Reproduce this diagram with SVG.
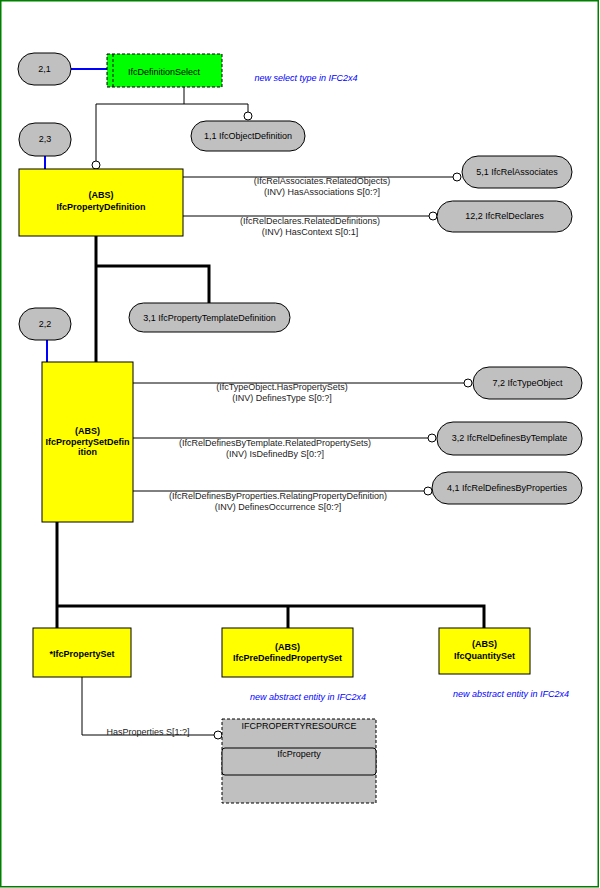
<svg xmlns="http://www.w3.org/2000/svg" width="600" height="888" viewBox="0 0 600 888">
<style>
text{font-family:"Liberation Sans",Arial,sans-serif;font-size:9px;fill:#000;text-anchor:middle}
.b{font-weight:bold}
.note{fill:#0000ff;font-style:italic}
.lbl{fill:#222}
.pill{fill:#c0c0c0;stroke:#000;stroke-width:1}
.ent{fill:#ffff00;stroke:#000;stroke-width:1}
.thin{stroke:#000;stroke-width:1;fill:none}
.thick{stroke:#000;stroke-width:3;fill:none}
.blue{stroke:#0000ff;stroke-width:2;fill:none}
.oc{fill:#fff;stroke:#000;stroke-width:1}
</style>
<rect x="0.75" y="0.75" width="597.5" height="886" fill="#fff" stroke="#008000" stroke-width="1.5"/>

<g id="connectors">
<line class="blue" x1="71" y1="69" x2="107" y2="69"/>
<line class="blue" x1="45" y1="156" x2="45" y2="169"/>
<line class="blue" x1="47" y1="340" x2="47" y2="362"/>
<polyline class="thin" points="184,87 184,104 96,104 96,161"/>
<polyline class="thin" points="184,104 248,104 248,112"/>
<circle class="oc" cx="248" cy="116" r="4"/>
<circle class="oc" cx="96" cy="165" r="4"/>
<line class="thin" x1="183" y1="177" x2="453" y2="177"/>
<circle class="oc" cx="457" cy="177" r="4"/>
<text class="lbl" x="322" y="184">(IfcRelAssociates.RelatedObjects)</text>
<text class="lbl" x="322" y="195">(INV) HasAssociations S[0:?]</text>
<line class="thin" x1="183" y1="216" x2="429" y2="216"/>
<circle class="oc" cx="433" cy="216" r="4"/>
<text class="lbl" x="310" y="224">(IfcRelDeclares.RelatedDefinitions)</text>
<text class="lbl" x="310" y="235">(INV) HasContext S[0:1]</text>
<polyline class="thick" points="96,236 96,362"/>
<polyline class="thick" points="96,266 209,266 209,303"/>
<line class="thin" x1="133" y1="383" x2="464" y2="383"/>
<circle class="oc" cx="468" cy="383" r="4"/>
<text class="lbl" x="282" y="390">(IfcTypeObject.HasPropertySets)</text>
<text class="lbl" x="282" y="401">(INV) DefinesType S[0:?]</text>
<line class="thin" x1="133" y1="438" x2="428" y2="438"/>
<circle class="oc" cx="432" cy="438" r="4"/>
<text class="lbl" x="275" y="446">(IfcRelDefinesByTemplate.RelatedPropertySets)</text>
<text class="lbl" x="275" y="457">(INV) IsDefinedBy S[0:?]</text>
<line class="thin" x1="133" y1="491" x2="424" y2="491"/>
<circle class="oc" cx="428" cy="491" r="4"/>
<text class="lbl" x="278" y="499">(IfcRelDefinesByProperties.RelatingPropertyDefinition)</text>
<text class="lbl" x="278" y="510">(INV) DefinesOccurrence S[0:?]</text>
<polyline class="thick" points="57,522 57,628"/>
<polyline class="thick" points="57,606 484,606 484,628"/>
<line class="thick" x1="288" y1="606" x2="288" y2="628"/>
<polyline class="thin" points="82,677 82,735 214,735"/>
<circle class="oc" cx="218" cy="735" r="4"/>
<text class="lbl" x="148" y="735">HasProperties S[1:?]</text>
</g>

<g id="n21"><rect class="pill" x="18" y="53" width="53" height="32" rx="16"/><text x="44.5" y="72">2,1</text></g>
<g id="IfcDefinitionSelect">
<rect x="107" y="54" width="115" height="33" fill="#00ff00" stroke="#000" stroke-dasharray="3,2"/>
<line x1="113" y1="54" x2="113" y2="87" stroke="#000" stroke-dasharray="3,2"/>
<text x="164" y="75">IfcDefinitionSelect</text>
</g>
<g id="note1"><text class="note" x="306" y="81">new select type in IFC2x4</text></g>
<g id="n11"><rect class="pill" x="191" y="121" width="114" height="30" rx="15"/><text x="248" y="139">1,1 IfcObjectDefinition</text></g>
<g id="n23"><rect class="pill" x="19" y="123" width="52" height="33" rx="16"/><text x="45" y="142">2,3</text></g>
<g id="IfcPropertyDefinition">
<rect class="ent" x="19" y="169" width="164" height="67"/>
<text class="b" x="101" y="198">(ABS)</text>
<text class="b" x="101" y="210">IfcPropertyDefinition</text>
</g>
<g id="n51"><rect class="pill" x="462" y="156" width="110" height="32" rx="16"/><text x="517" y="175">5,1 IfcRelAssociates</text></g>
<g id="n122"><rect class="pill" x="437" y="201" width="135" height="31" rx="15.5"/><text x="504.5" y="219">12,2 IfcRelDeclares</text></g>
<g id="n31"><rect class="pill" x="129" y="303" width="161" height="29" rx="14.5"/><text x="209.5" y="321">3,1 IfcPropertyTemplateDefinition</text></g>
<g id="n22"><rect class="pill" x="19" y="308" width="52" height="32" rx="16"/><text x="45" y="327">2,2</text></g>
<g id="IfcPropertySetDefinition">
<rect class="ent" x="42" y="362" width="91" height="160"/>
<text class="b" x="87.5" y="434">(ABS)</text>
<text class="b" x="87.5" y="445">IfcPropertySetDefin</text>
<text class="b" x="87.5" y="455">ition</text>
</g>
<g id="n72"><rect class="pill" x="473" y="367" width="109" height="32" rx="16"/><text x="527.5" y="386">7,2 IfcTypeObject</text></g>
<g id="n32"><rect class="pill" x="437" y="422" width="145" height="33" rx="16"/><text x="509.5" y="441">3,2 IfcRelDefinesByTemplate</text></g>
<g id="n41"><rect class="pill" x="432" y="472" width="150" height="32" rx="16"/><text x="507" y="491">4,1 IfcRelDefinesByProperties</text></g>
<g id="IfcPropertySet">
<rect class="ent" x="33" y="628" width="98" height="49"/>
<text class="b" x="82" y="657">*IfcPropertySet</text>
</g>
<g id="IfcPreDefinedPropertySet">
<rect class="ent" x="222" y="628" width="131" height="49"/>
<text class="b" x="287.5" y="650">(ABS)</text>
<text class="b" x="287.5" y="661">IfcPreDefinedPropertySet</text>
</g>
<g id="IfcQuantitySet">
<rect class="ent" x="439" y="628" width="91" height="46"/>
<text class="b" x="484.5" y="647">(ABS)</text>
<text class="b" x="484.5" y="659">IfcQuantitySet</text>
</g>
<g id="note2"><text class="note" x="308" y="700">new abstract entity in IFC2x4</text></g>
<g id="note3"><text class="note" x="511" y="697">new abstract entity in IFC2x4</text></g>
<g id="IFCPROPERTYRESOURCE">
<rect x="222" y="719" width="154" height="84" fill="#c0c0c0" stroke="#000" stroke-dasharray="3,2"/>
<text fill="#333" x="299" y="729">IFCPROPERTYRESOURCE</text>
<rect x="222" y="748" width="154" height="27" rx="3" fill="#c0c0c0" stroke="#000"/>
<text fill="#333" x="299" y="757">IfcProperty</text>
</g>
</svg>
